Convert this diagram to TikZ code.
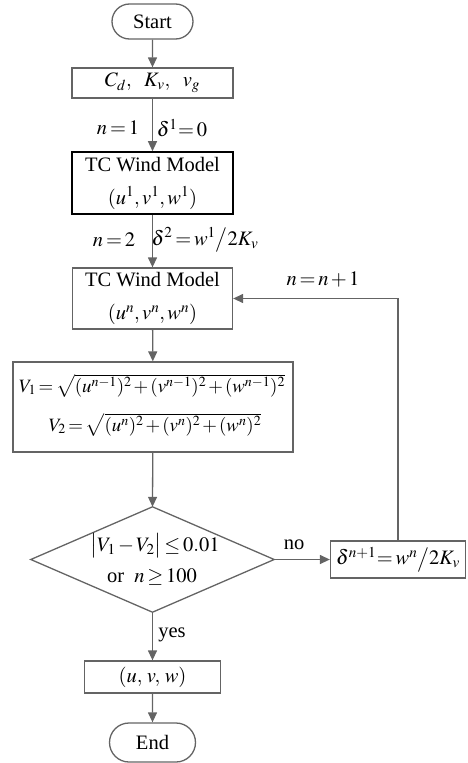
\documentclass[tikz,border=0pt]{standalone}
\usepackage{mathptmx}
\usepackage{fontspec}
\setmainfont{Liberation Serif}
\usetikzlibrary{arrows.meta,shapes.geometric,shapes.misc}
\definecolor{ln}{RGB}{100,100,100}
\thickmuskip=2.5mu plus 1mu
\medmuskip=2mu plus 1mu
\begin{document}
\begin{tikzpicture}[x=1pt,y=-1pt,
  font=\fontsize{20.5}{24}\selectfont,
  box/.style={draw=ln, line width=1.3pt, rectangle, inner sep=0pt, align=center},
  term/.style={draw=ln, line width=1.3pt, rounded rectangle, inner sep=0pt, minimum width=81pt, minimum height=35pt},
  arr/.style={draw=ln, line width=1.3pt, -{Triangle[length=10pt,width=9pt]}},
  lbl/.style={inner sep=0pt}]
\useasboundingbox (0,0) rectangle (467,763);
\node[term] (start) at (152.5,21.5) {Start};
\node[box, minimum width=161pt, minimum height=30pt] (input) at (152.5,83) {$C_d,\ \ K_v,\ \ v_g$};
\node[box, draw=black, line width=1.6pt, minimum width=161pt, minimum height=62pt] (tc1) at (152.5,183) {TC Wind Model\\[9pt]$(u^1,v^1,w^1)$};
\node[box, minimum width=160pt, minimum height=61pt] (tc2) at (152.5,298.5) {TC Wind Model\\[9pt]$(u^n,v^n,w^n)$};
\node[box, minimum width=280pt, minimum height=90pt] (vbox) at (153,407) {};
\node[lbl, anchor=base] (v1) at (152,392) {\scalebox{0.92}{$V_1=\sqrt{(u^{n-1})^2+(v^{n-1})^2+(w^{n-1})^2}$}};
\node[lbl, anchor=base] (v2) at (155,431) {\scalebox{0.92}{$V_2=\sqrt{(u^{n})^2+(v^{n})^2+(w^{n})^2}$}};
\node[minimum width=243pt, minimum height=105pt, inner sep=0pt] (dec) at (152.5,559.5) {};
\draw[draw=ln, line width=1.3pt, line join=miter] (dec.north) -- (dec.east) -- (dec.south) -- (dec.west) -- cycle;
\node[lbl, anchor=base] (dt1) at (155,551) {$\bigl|V_1-V_2\bigr|\le 0.01$};
\node[lbl, anchor=base] (dt2) at (152,582) {or\ \ $n\ge 100$};
\node[box, minimum width=135pt, minimum height=37pt] (delta) at (398,559.5) {$\delta^{n+1}\!=w^n\big/2K_v$};
\node[box, minimum width=136pt, minimum height=32pt] (out) at (152.5,677) {$(u,\,v,\,w)$};
\node[term, minimum width=86pt, minimum height=39pt] (end) at (152.5,742.5) {End};
% labels
\node[lbl] (l1a) at (118,128) {$n=1$};
\node[lbl] (l1b) at (182,128) {$\delta^1\!=0$};
\node[lbl] (l2a) at (114,240) {$n=2$};
\node[lbl] (l2b) at (205,240) {$\delta^2=w^1\big/2K_v$};
\node[lbl] (lnn) at (323,279) {$n=n+1$};
\node[lbl] (lno) at (294,545) {no};
\node[lbl] (lyes) at (172,635) {yes};
% connectors
\draw[arr] (start) -- (input);
\draw[arr] (input) -- (tc1);
\draw[arr] (tc1) -- (tc2);
\draw[arr] (tc2) -- (vbox);
\draw[arr] (vbox) -- (dec.north);
\draw[arr] (dec.east) -- (delta.west);
\draw[arr] (delta.north) |- (tc2.east);
\draw[arr] (dec.south) -- (out);
\draw[arr] (out) -- (end);
\end{tikzpicture}
\end{document}
